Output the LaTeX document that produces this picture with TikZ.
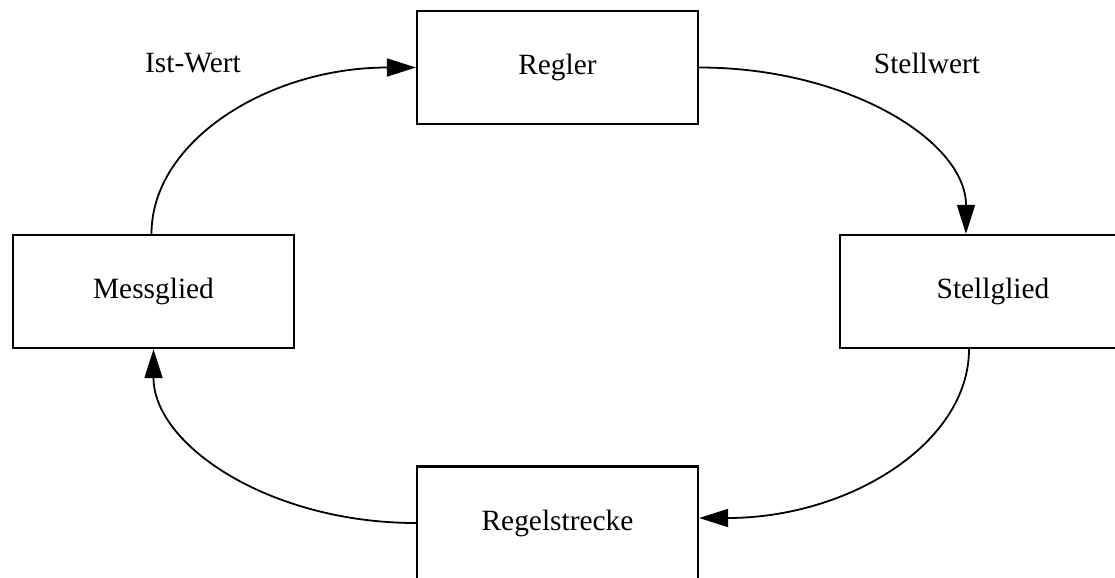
\documentclass[tikz,border=0pt]{standalone}
\usepackage{fontspec}
\setmainfont{Liberation Serif}
\usetikzlibrary{arrows.meta}
\begin{document}
\begin{tikzpicture}[x=0.5pt,y=-0.5pt,
  block/.style={draw, line width=1.15pt, inner sep=0pt, minimum width=140.5pt, minimum height=56.5pt, font=\fontsize{14.7}{17}\selectfont},
  lbl/.style={font=\fontsize{14.7}{17}\selectfont, inner sep=0pt},
  flow/.style={line width=0.9pt, -{Triangle[length=14.5pt,width=9pt]}}]
\useasboundingbox (0,0) rectangle (1115,578);
\clip (0,0) rectangle (1115,578);
\node[block] (r) at (557.5,67.5) {Regler};
\node[block] (m) at (153.5,291.5) {Messglied};
\node[block, minimum width=153pt] (s) at (993,291.5) {Stellglied};
\node[block] (g) at (557.5,523) {Regelstrecke};
\node[lbl] (ist) at (193,63) {Ist-Wert};
\node[lbl] (stw) at (927,63) {Stellwert};
\coordinate (stop) at ([xshift=-13.5pt]s.north);
\coordinate (sbot) at ([xshift=-12pt]s.south);
\coordinate (geast) at ([yshift=2.5pt]g.east);
\draw[flow] ([xshift=-1pt]m.north) .. controls +(0,-93) and +(-147,0) .. (r.west);
\draw[flow] (r.east) .. controls +(148,0) and +(0,-93) .. (stop);
\draw[flow] (sbot) .. controls +(0,94) and +(150,0) .. (geast);
\draw[flow] (g.west) .. controls +(-146,0) and +(0,96) .. (m.south);
\end{tikzpicture}
\end{document}
